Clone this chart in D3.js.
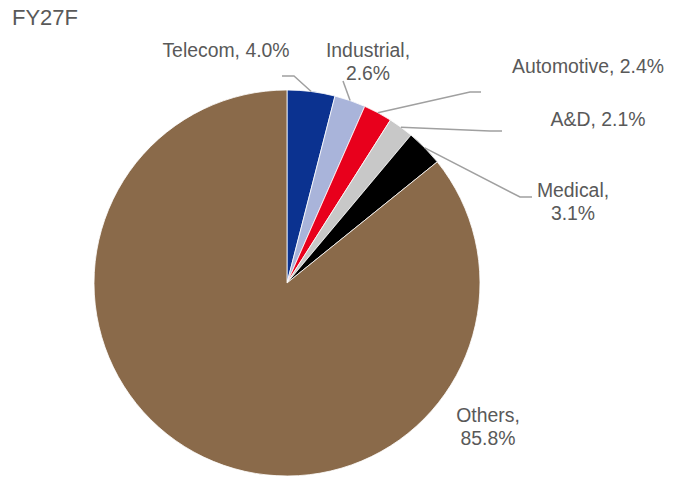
<!DOCTYPE html>
<html>
<head>
<meta charset="utf-8">
<script src="https://cdn.jsdelivr.net/npm/d3@7"></script>
<style>
  html, body { margin: 0; padding: 0; background: #ffffff; }
  svg { display: block; font-family: Arial, "Liberation Sans", sans-serif; }
</style>
</head>
<body>
<svg id="chart" width="681" height="477"></svg>
<script>
// Revenue mix by end market, FY27F (percent)
const title = "FY27F";
const categories = ["Telecom", "Industrial", "Automotive", "A&D", "Medical", "Others"];
const shares = [4.0, 2.6, 2.4, 2.1, 3.1, 85.8];
const sliceColors = ["#0B3290", "#A9B4DA", "#E8001C", "#C8C8C8", "#000000", "#8A6A4A"];

// Label placement: text lines anchored at a centre x, first baseline y,
// and the elbow / end of each leader line (null = no leader line).
const labelLayout = {
  "Telecom":    { x: 226, y: 57,  lines: 1, leader: [[311, 92], [294, 76], [282, 76]] },
  "Industrial": { x: 368, y: 57,  lines: 2, leader: [[350, 101], [343, 81]] },
  "Automotive": { x: 588, y: 73,  lines: 1, leader: [[378, 113], [470, 92], [481, 92]] },
  "A&D":        { x: 598, y: 126, lines: 1, leader: [[402, 128], [490, 131], [502, 131]] },
  "Medical":    { x: 573, y: 197, lines: 2, leader: [[425, 148], [520, 197], [532, 197]] },
  "Others":     { x: 488, y: 422, lines: 2, leader: null }
};

const svg = d3.select("#chart");
const cx = 287, cy = 283, radius = 193;

const pie = d3.pie().sort(null).value(d => d.value);
const arc = d3.arc().innerRadius(0).outerRadius(radius);

const data = categories.map((c, i) => ({ name: c, value: shares[i], color: sliceColors[i] }));
const arcs = pie(data);

const g = svg.append("g").attr("transform", `translate(${cx},${cy})`);

g.selectAll("path.slice")
  .data(arcs)
  .enter().append("path")
  .attr("class", "slice")
  .attr("d", arc)
  .attr("fill", d => d.data.color)
  .attr("stroke", "#ffffff")
  .attr("stroke-width", 0.8);

// Leader lines
const line = d3.line();
arcs.forEach(a => {
  const lay = labelLayout[a.data.name];
  if (!lay.leader) return;
  const mid = (a.startAngle + a.endAngle) / 2;
  const start = [cx + radius * Math.sin(mid), cy - radius * Math.cos(mid)];
  const pts = [start].concat(lay.leader.slice(1));
  svg.append("path")
    .attr("d", line(pts))
    .attr("fill", "none")
    .attr("stroke", "#A0A0A0")
    .attr("stroke-width", 1.5);
});

// Data labels
arcs.forEach(a => {
  const lay = labelLayout[a.data.name];
  const pct = d3.format(".1f")(a.data.value) + "%";
  const text = svg.append("text")
    .attr("x", lay.x)
    .attr("y", lay.y)
    .attr("text-anchor", "middle")
    .attr("fill", "#595959")
    .attr("font-size", 19.4);
  if (lay.lines === 1) {
    text.text(`${a.data.name}, ${pct}`);
  } else {
    text.append("tspan").attr("x", lay.x).text(`${a.data.name},`);
    text.append("tspan").attr("x", lay.x).attr("dy", 23).text(pct);
  }
});

// Title
svg.append("text")
  .attr("x", 12)
  .attr("y", 25)
  .attr("fill", "#595959")
  .attr("font-size", 22)
  .text(title);
</script>
</body>
</html>
